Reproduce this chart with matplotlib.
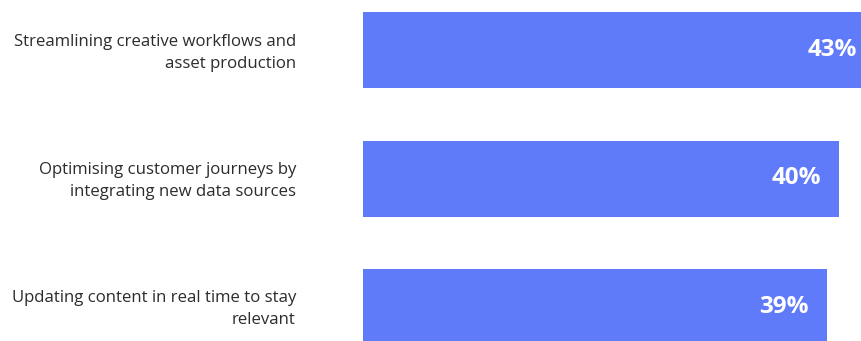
import matplotlib
matplotlib.use("Agg")
import matplotlib.pyplot as plt
import matplotlib.transforms as mtransforms

categories = [
    "Streamlining creative workflows and\nasset production",
    "Optimising customer journeys by\nintegrating new data sources",
    "Updating content in real time to stay\nrelevant",
]
values = [43, 40, 39]
value_labels = ["43%", "40%", "39%"]

W, H = 862, 341
fig = plt.figure(figsize=(W / 100, H / 100), dpi=100)
ax = fig.add_axes([363 / W, 0, 1 - 363 / W, 1])

bar_color = "#607BFA"
ypos = list(range(len(values)))
ax.barh(ypos, values, height=76 / 128.5, color=bar_color, linewidth=0)

px_per_unit = 11.9
ax.set_xlim(0, (W - 363) / px_per_unit)
ax.set_ylim((H - 50) / 128.5, -50 / 128.5)
ax.axis("off")

for y, v, lab in zip(ypos, values, value_labels):
    ax.annotate(lab, xy=(v, y), xytext=(-18 * 72 / 100, 0), textcoords="offset points",
                ha="right", va="center", color="white", fontsize=17.5,
                fontweight="bold", family="Open Sans", annotation_clip=False)

for y, cat in zip(ypos, categories):
    ax.annotate(cat, xy=(0, y), xycoords=("axes fraction", "data"),
                xytext=(-67 * 72 / 100, -2.5 * 72 / 100), textcoords="offset points",
                ha="right", va="center", fontsize=12.1, color="#2c2c2c",
                family="Open Sans", linespacing=1.5, multialignment="right",
                annotation_clip=False)

fig.savefig("out.png", dpi=100)
